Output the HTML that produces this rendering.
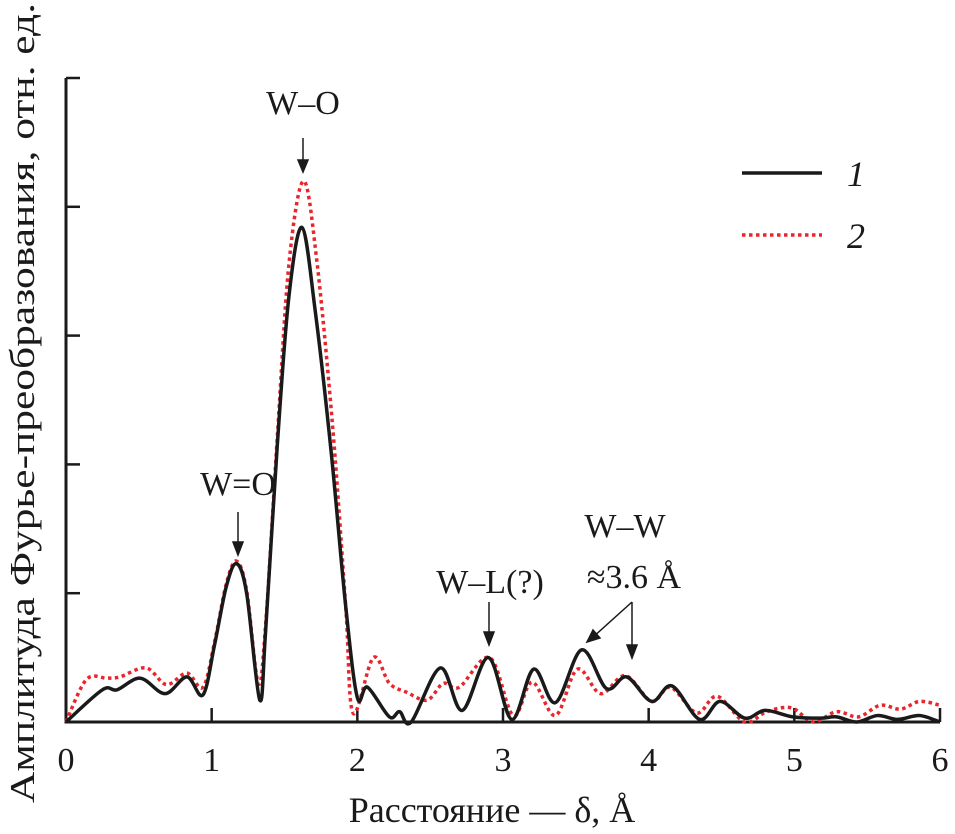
<!DOCTYPE html>
<html><head><meta charset="utf-8"><style>
html,body{margin:0;padding:0;background:#fff}
svg{display:block}
text{font-family:"Liberation Serif",serif;fill:#1a1a1a}
</style></head><body>
<svg id="chart" width="955" height="834" viewBox="0 0 955 834">
<g id="axes"></g>
<g id="series"></g>
<text x="492" y="822" font-size="36" text-anchor="middle">Расстояние — δ, Å</text>
<text transform="translate(34,403) rotate(-90)" font-size="35" text-anchor="middle" textLength="800" lengthAdjust="spacingAndGlyphs">Амплитуда Фурье-преобразования, отн. ед.</text>
<g>
 <line x1="742" y1="173" x2="822" y2="173" stroke="#1a1a1a" stroke-width="3.5"/>
 <text x="847" y="186" font-size="36" font-style="italic">1</text>
 <line x1="742" y1="235" x2="822" y2="235" stroke="#e8262b" stroke-width="3.5" stroke-dasharray="3.5,3.5"/>
 <text x="847" y="248" font-size="36" font-style="italic">2</text>
</g>
<g stroke="#1a1a1a" stroke-width="1.5">
 <text x="303" y="114" font-size="34" text-anchor="middle" stroke="none">W–O</text>
 <line x1="303" y1="138" x2="303" y2="168"/>
 <path d="M298,160 L303,172 L308,160 Z" fill="#1a1a1a"/>
 <text x="238" y="495" font-size="34" text-anchor="middle" stroke="none">W=O</text>
 <line x1="238" y1="512" x2="238" y2="550"/>
 <path d="M233,542 L238,555 L243,542 Z" fill="#1a1a1a"/>
 <text x="490" y="593" font-size="34" text-anchor="middle" stroke="none">W–L(?)</text>
 <line x1="489" y1="602" x2="489" y2="640"/>
 <path d="M484,632 L489,645 L494,632 Z" fill="#1a1a1a"/>
 <text x="625" y="537" font-size="34" text-anchor="middle" stroke="none">W–W</text>
 <text x="634" y="588" font-size="34" text-anchor="middle" stroke="none">≈3.6 Å</text>
 <line x1="632" y1="602" x2="592" y2="638"/>
 <path d="M587,642 L593,630 L600,638 Z" fill="#1a1a1a"/>
 <line x1="632" y1="602" x2="632" y2="652"/>
 <path d="M627,645 L632,658 L637,645 Z" fill="#1a1a1a"/>
</g>
</svg>
<script>
const xTicks = [0,1,2,3,4,5,6];
const yTicks = [1,2,3,4,5];
const x1 = [0,0.25,0.35,0.51,0.68,0.83,0.94,1.02,1.1,1.17,1.24,1.33,1.37,1.45,1.53,1.62,1.71,1.82,1.92,2.0,2.07,2.22,2.29,2.37,2.57,2.72,2.90,3.06,3.21,3.36,3.54,3.71,3.85,4.02,4.16,4.35,4.49,4.66,4.80,4.99,5.18,5.29,5.43,5.57,5.71,5.86,6.0];
const y1 = [0,0.25,0.25,0.34,0.22,0.35,0.21,0.6,1.05,1.23,1.0,0.17,0.7,2.14,3.3,3.84,3.2,2.1,0.9,0.19,0.27,0.04,0.08,0,0.42,0.09,0.50,0.02,0.41,0.15,0.56,0.26,0.35,0.16,0.28,0.02,0.16,0.03,0.09,0.04,0.03,0.04,0,0.05,0.02,0.05,0];
const x2 = [0,0.14,0.28,0.37,0.55,0.69,0.83,0.94,1.02,1.1,1.17,1.24,1.32,1.37,1.45,1.53,1.63,1.72,1.83,1.92,1.97,2.11,2.22,2.34,2.48,2.59,2.70,2.91,3.07,3.20,3.36,3.51,3.67,3.84,4.02,4.15,4.33,4.47,4.66,4.81,4.98,5.13,5.29,5.44,5.59,5.73,5.86,6.0];
const y2 = [0,0.33,0.34,0.35,0.42,0.29,0.38,0.27,0.62,1.07,1.25,1.02,0.3,0.75,2.2,3.55,4.2,3.6,2.3,0.9,0.07,0.50,0.30,0.23,0.17,0.30,0.27,0.50,0.05,0.31,0.05,0.41,0.22,0.36,0.16,0.27,0.07,0.20,0,0.08,0.11,0,0.08,0.04,0.13,0.10,0.16,0.13];
const NS='http://www.w3.org/2000/svg';
const X0=66,X1=940,Y0=722,YT=78,XMAX=6,YMAX=5;
function sx(v){return X0+v*(X1-X0)/XMAX;}
function sy(v){return Y0-v*(Y0-YT)/YMAX;}
function mk(t,a,p){const e=document.createElementNS(NS,t);for(const k in a)e.setAttribute(k,a[k]);p.appendChild(e);return e;}
const axes=document.getElementById('axes');
const ax=mk('path',{d:`M${X0},${YT} L${X0},${Y0} L${X1},${Y0}`,fill:'none',stroke:'#1a1a1a','stroke-width':3},axes);


xTicks.forEach(v=>{
 const t=mk('line',{x1:sx(v),x2:sx(v),y1:Y0,y2:Y0-14,stroke:'#1a1a1a','stroke-width':2.5},axes);
 
 
 const l=mk('text',{x:sx(v),y:Y0+49,'font-size':34,'text-anchor':'middle'},axes);
 l.textContent=v;
 
 
});
yTicks.forEach(v=>{
 const t=mk('line',{x1:X0,x2:X0+14,y1:sy(v),y2:sy(v),stroke:'#1a1a1a','stroke-width':2.5},axes);
 
 
});
function smooth(xs,ys){
 const p=xs.map((x,i)=>[sx(x),sy(ys[i])]);
 let d=`M${p[0][0]},${p[0][1]}`;
 for(let i=0;i<p.length-1;i++){
  const a=p[Math.max(0,i-1)],b=p[i],c=p[i+1],e=p[Math.min(p.length-1,i+2)];
  const k=1/6;
  d+=` C${b[0]+(c[0]-a[0])*k},${b[1]+(c[1]-a[1])*k} ${c[0]-(e[0]-b[0])*k},${c[1]-(e[1]-b[1])*k} ${c[0]},${c[1]}`;
 }
 return d;
}
const ser=document.getElementById('series');
const s2=mk('path',{d:smooth(x2,y2),fill:'none',stroke:'#e8262b','stroke-width':3.5,'stroke-dasharray':'3.5,3.5'},ser);


const s1=mk('path',{d:smooth(x1,y1),fill:'none',stroke:'#1a1a1a','stroke-width':3.5,'stroke-linejoin':'round'},ser);


</script>
</body></html>
